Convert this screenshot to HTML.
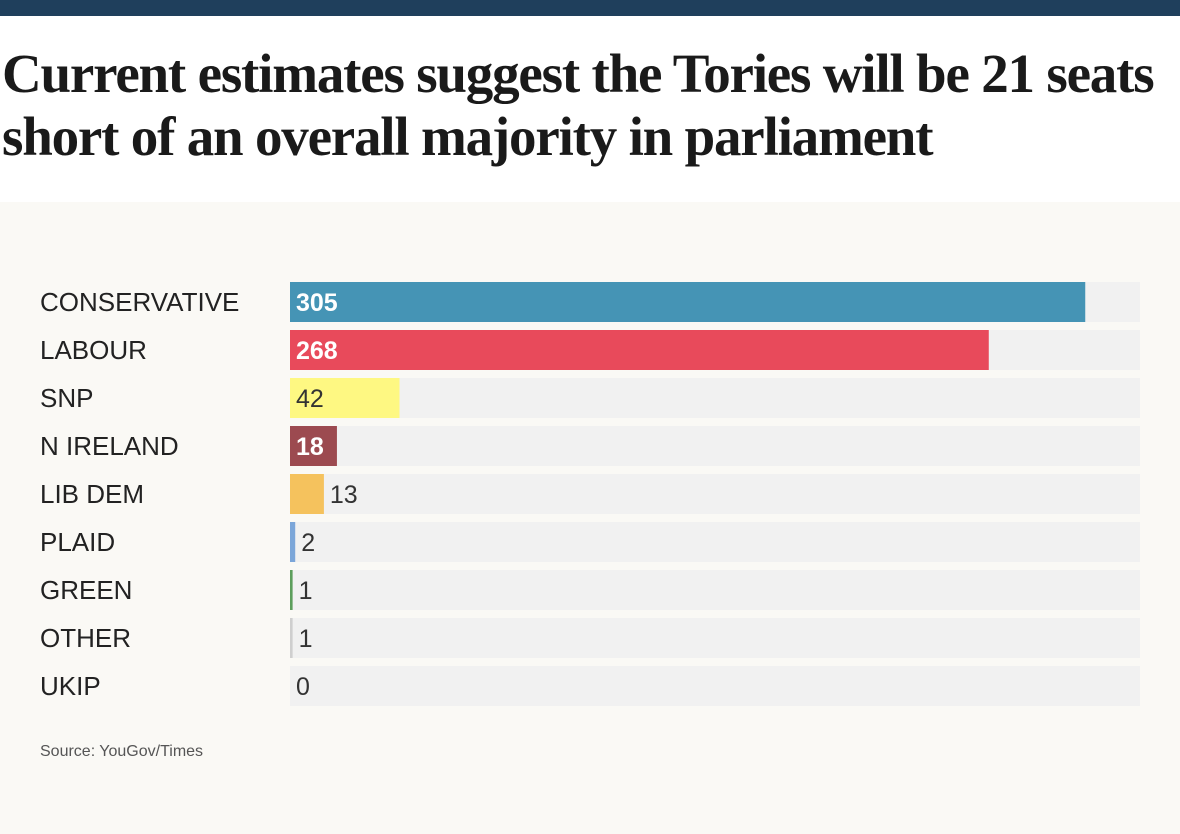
<!DOCTYPE html>
<html><head><meta charset="utf-8"><style>
body{margin:0;width:1180px;height:834px;overflow:hidden;background:#fff;font-family:"Liberation Sans",sans-serif}
#bar{position:absolute;left:0;top:0;width:1180px;height:16px;background:#1f3f5c}
#title{position:absolute;left:2px;top:42px;font-family:"Liberation Serif",serif;font-weight:bold;font-size:55px;line-height:63px;letter-spacing:-1.2px;color:#1a1a1a;margin:0;white-space:nowrap}
#panel{position:absolute;left:0;top:202px;width:1180px;height:632px;background:#faf9f5}
#src{position:absolute;left:40px;top:743px;font-size:16px;color:#555}
</style></head><body>
<div id="bar"></div>
<h1 id="title">Current estimates suggest the Tories will be 21 seats<br>short of an overall majority in parliament</h1>
<div id="panel"></div>
<svg id="chart" width="1180" height="834" style="position:absolute;left:0;top:0"></svg>
<div id="src">Source: YouGov/Times</div>
<script>
const parties=["CONSERVATIVE","LABOUR","SNP","N IRELAND","LIB DEM","PLAID","GREEN","OTHER","UKIP"];
const seats=[305,268,42,18,13,2,1,1,0];
const maxSeats=326;
const colors=["#4594b5","#e84a5b","#fef882","#9c4a50","#f5c25d","#7ba6d9","#5c9e5c","#cfcfcf","#cccccc"];
const textColors=["#fff","#fff","#333","#fff","#333","#333","#333","#333","#333"];
const NS="http://www.w3.org/2000/svg";
const svg=document.getElementById('chart');
const x0=290,trackW=850,y0=282,rowH=48,barH=40;
const xs=v=>v/maxSeats*trackW;
const ys=i=>y0+i*rowH;
function mk(t,a){const e=document.createElementNS(NS,t);for(const k in a)e.setAttribute(k,a[k]);svg.appendChild(e);return e;}
parties.forEach((p,i)=>{
  const y=ys(i);
  const lab=mk('text',{x:40,y:y+29,'font-size':26,fill:'#222'});lab.textContent=p;
  
  
  const tr=mk('rect',{x:x0,y:y,width:trackW,height:barH,fill:'#f1f1f1'});
  
  
  const w=xs(seats[i]);
  const b=mk('rect',{x:x0,y:y,width:w,height:barH,fill:colors[i]});
  
  
  const inside=w>40;
  const v=mk('text',{x:inside?x0+6:x0+w+6,y:y+29,'font-size':25,fill:inside?textColors[i]:'#333','font-weight':inside&&textColors[i]=='#fff'?'bold':'normal'});
  v.textContent=seats[i];
  
  
});
</script>
</body></html>
